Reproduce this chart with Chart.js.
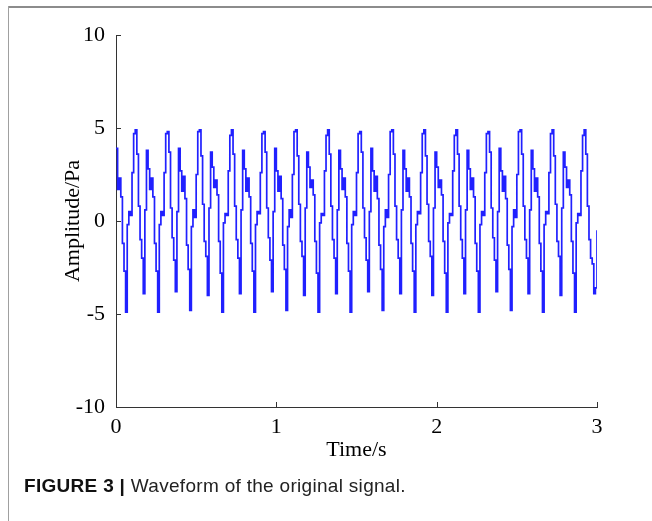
<!DOCTYPE html>
<html>
<head>
<meta charset="utf-8">
<title>Waveform of the original signal</title>
<script src="https://cdn.jsdelivr.net/npm/chart.js@4.4.1/dist/chart.umd.min.js"></script>
<style>
  html, body { margin: 0; padding: 0; background: #fff; }
  .figure { position: relative; width: 652px; height: 521px; overflow: hidden; }
  .figure canvas { position: absolute; left: 0; top: 0; }
  .frame-top { position: absolute; left: 8px; right: 0; top: 6px; height: 2px; background: #8c8c8c; }
  .frame-left { position: absolute; left: 8px; top: 6px; bottom: 0; width: 1px; background: #a0a0a0; }
  .caption { position: absolute; left: 24px; top: 475px; font-family: "Liberation Sans", Arial, sans-serif; font-size: 19px; letter-spacing: 0.3px; color: #222; white-space: nowrap; }
  .caption b { font-weight: bold; color: #111; }
</style>
</head>
<body>
<div class="figure">
  <div class="frame-top"></div>
  <div class="frame-left"></div>
  <canvas id="waveChart" width="652" height="521"></canvas>
  <div class="caption"><b>FIGURE 3 |</b> Waveform of the original signal.</div>
</div>

<script>
// samples, 100 samples per second (step / sample-and-hold look)
const sampleRate = 100;

// 0.00 s – 0.99 s
const amplitudeSec1 = [
  3.9, 1.7, 2.3, 1.3, -1.2, -2.7, -4.9, -0.2, 0.5, 0.3, 2.6, 4.7,
  4.9, 3.6, 0.8, -1.0, -2.0, -3.9, 0.6, 3.8, 2.8, 1.7, 2.3, 1.3, -1.2, -2.7, -4.9, -0.2, 0.5, 0.3, 2.6, 4.7,
  4.8, 3.7, 0.7, -0.9, -2.1, -3.8, 0.5, 3.9, 2.7, 1.6, 2.4, 1.2, -1.3, -2.6, -4.8, -0.3, 0.6, 0.2, 2.5, 4.8,
  4.9, 3.5, 0.9, -1.1, -1.9, -4.0, 0.7, 3.7, 2.9, 1.8, 2.2, 1.4, -1.1, -2.8, -4.9, -0.1, 0.4, 0.3, 2.7, 4.6,
  4.9, 3.6, 0.8, -1.0, -2.0, -3.9, 0.6, 3.8, 2.8, 1.6, 2.3, 1.3, -1.2, -2.7, -4.9, -0.2, 0.5, 0.4, 2.6, 4.7,
  4.8, 3.7, 0.7, -0.9, -2.1, -3.8, 0.5, 3.9
];

// 1.00 s – 1.99 s
const amplitudeSec2 = [
  2.7, 1.6, 2.4, 1.2, -1.3, -2.6, -4.8, -0.3, 0.6, 0.2, 2.5, 4.8,
  4.9, 3.5, 0.9, -1.1, -1.9, -4.0, 0.7, 3.7, 2.9, 1.8, 2.2, 1.4, -1.1, -2.8, -4.9, -0.1, 0.4, 0.3, 2.7, 4.6,
  4.9, 3.6, 0.8, -1.0, -2.0, -3.9, 0.6, 3.8, 2.8, 1.7, 2.3, 1.3, -1.2, -2.7, -4.9, -0.2, 0.5, 0.3, 2.6, 4.7,
  4.8, 3.7, 0.7, -0.9, -2.1, -3.8, 0.5, 3.9, 2.7, 1.6, 2.4, 1.2, -1.3, -2.6, -4.8, -0.3, 0.6, 0.2, 2.5, 4.8,
  4.9, 3.6, 0.8, -1.0, -2.0, -3.9, 0.6, 3.8, 2.8, 1.6, 2.3, 1.3, -1.2, -2.7, -4.9, -0.2, 0.5, 0.4, 2.6, 4.7,
  4.9, 3.5, 0.9, -1.1, -1.9, -4.0, 0.7, 3.7
];

// 2.00 s – 3.00 s
const amplitudeSec3 = [
  2.9, 1.8, 2.2, 1.4, -1.1, -2.8, -4.9, -0.1, 0.4, 0.3, 2.7, 4.6,
  4.9, 3.6, 0.8, -1.0, -2.0, -3.9, 0.6, 3.8, 2.8, 1.7, 2.3, 1.3, -1.2, -2.7, -4.9, -0.2, 0.5, 0.3, 2.6, 4.7,
  4.8, 3.7, 0.7, -0.9, -2.1, -3.8, 0.5, 3.9, 2.7, 1.6, 2.4, 1.2, -1.3, -2.6, -4.8, -0.3, 0.6, 0.2, 2.5, 4.8,
  4.9, 3.6, 0.8, -1.0, -2.0, -3.9, 0.6, 3.8, 2.8, 1.6, 2.3, 1.3, -1.2, -2.7, -4.9, -0.2, 0.5, 0.4, 2.6, 4.7,
  4.9, 3.5, 0.9, -1.1, -1.9, -4.0, 0.7, 3.7, 2.9, 1.8, 2.2, 1.4, -1.1, -2.8, -4.9, -0.1, 0.4, 0.3, 2.7, 4.6,
  4.9, 3.6, 0.8, -1.0, -2.0, -2.3, -3.9, -3.6, -0.5
];

const timeTicks = [0, 1, 2, 3];
const amplitudeTicks = [-10, -5, 0, 5, 10];

const amplitude = [...amplitudeSec1, ...amplitudeSec2, ...amplitudeSec3];
const points = amplitude.map((v, i) => ({ x: i / sampleRate, y: v }));

const serif = '"Liberation Serif", "Times New Roman", serif';

// MATLAB style ticks pointing into the plot
const inwardTicks = {
  id: 'inwardTicks',
  afterDraw(chart) {
    const { ctx, chartArea: a, scales: { x, y } } = chart;
    ctx.save();
    ctx.strokeStyle = '#333';
    ctx.lineWidth = 1;
    ctx.beginPath();
    x.ticks.forEach(t => {
      const px = Math.round(x.getPixelForValue(t.value)) + 0.5;
      ctx.moveTo(px, a.bottom);
      ctx.lineTo(px, a.bottom - 5);
    });
    y.ticks.forEach(t => {
      const py = Math.round(y.getPixelForValue(t.value)) + 0.5;
      ctx.moveTo(a.left, py);
      ctx.lineTo(a.left + 5, py);
    });
    ctx.stroke();
    ctx.restore();
  }
};

new Chart(document.getElementById('waveChart'), {
  type: 'line',
  data: {
    datasets: [{
      data: points,
      borderColor: '#2020ff',
      borderWidth: 1.7,
      pointRadius: 0,
      stepped: true,
      fill: false
    }]
  },
  options: {
    responsive: false,
    animation: false,
    layout: { padding: { top: 35, right: 55, left: 0, bottom: 0 } },
    plugins: { legend: { display: false }, tooltip: { enabled: false } },
    scales: {
      x: {
        type: 'linear', min: 0, max: 3,
        afterBuildTicks: s => { s.ticks = timeTicks.map(v => ({ value: v })); },
        afterFit: s => { s.height = 114; },
        grid: { display: false, drawTicks: false },
        border: { display: true, color: '#333', width: 1 },
        ticks: { color: '#000', padding: 7, font: { family: serif, size: 22 } },
        title: { display: true, text: 'Time/s', color: '#000', padding: { top: 0, bottom: 58 }, font: { family: serif, size: 22 } }
      },
      y: {
        min: -10, max: 10,
        afterBuildTicks: s => { s.ticks = amplitudeTicks.map(v => ({ value: v })); },
        afterFit: s => { s.width = 116; },
        grid: { display: false, drawTicks: false },
        border: { display: true, color: '#333', width: 1 },
        ticks: { color: '#000', padding: 11, font: { family: serif, size: 22 } },
        title: { display: true, text: 'Amplitude/Pa', color: '#000', padding: { top: 60, bottom: 0 }, font: { family: serif, size: 22 } }
      }
    }
  },
  plugins: [inwardTicks]
});
</script>
</body>
</html>
